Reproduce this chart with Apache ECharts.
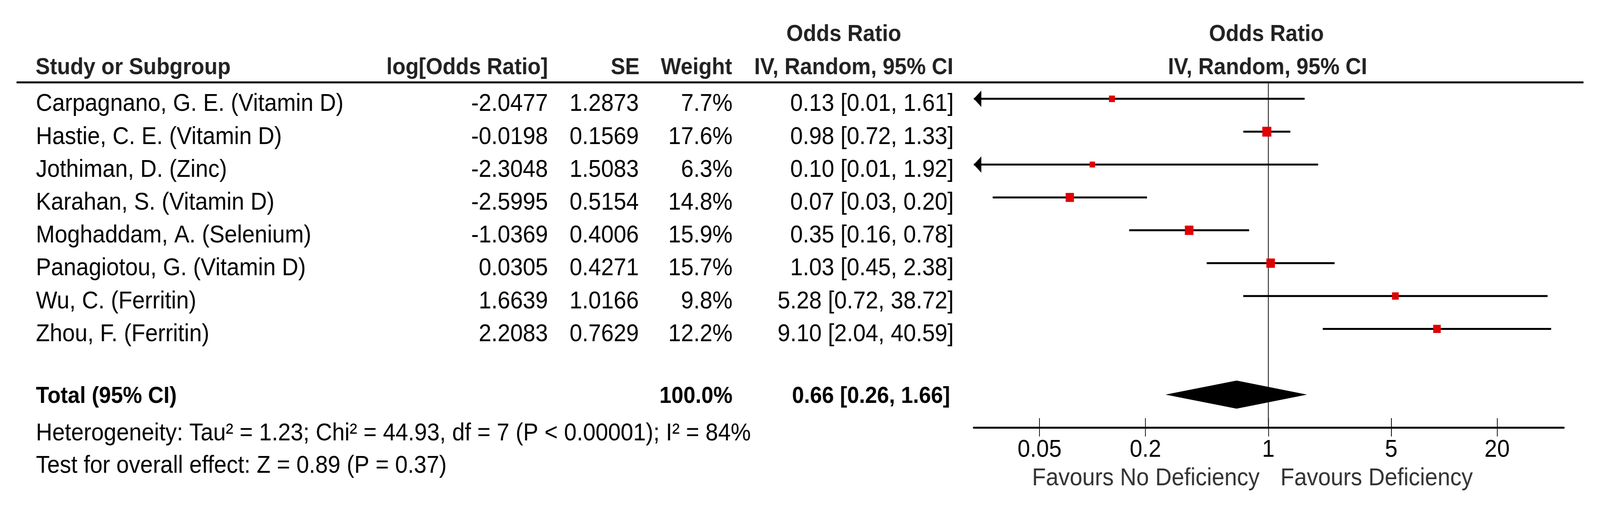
<!DOCTYPE html>
<html>
<head>
<meta charset="utf-8">
<title>Forest plot</title>
<script src="https://cdn.jsdelivr.net/npm/echarts@6/dist/echarts.min.js"></script>
<style>
    html, body { margin: 0; padding: 0; background: #fff; overflow: hidden; }
    #main { width: 4456px; height: 1314px; transform-origin: 0 0; }
</style>
</head>
<body>
<div id="main"></div>
<script>
var studies = [
    'Carpagnano, G. E. (Vitamin D)',
    'Hastie, C. E. (Vitamin D)',
    'Jothiman, D. (Zinc)',
    'Karahan, S. (Vitamin D)',
    'Moghaddam, A. (Selenium)',
    'Panagiotou, G. (Vitamin D)',
    'Wu, C. (Ferritin)',
    'Zhou, F. (Ferritin)'
];
var logOR = [-2.0477, -0.0198, -2.3048, -2.5995, -1.0369, 0.0305, 1.6639, 2.2083];
var se = [1.2873, 0.1569, 1.5083, 0.5154, 0.4006, 0.4271, 1.0166, 0.7629];
var weight = [7.7, 17.6, 6.3, 14.8, 15.9, 15.7, 9.8, 12.2];
var oddsRatio = [0.13, 0.98, 0.10, 0.07, 0.35, 1.03, 5.28, 9.10];
var ciLow = [0.01, 0.72, 0.01, 0.03, 0.16, 0.45, 0.72, 2.04];
var ciHigh = [1.61, 1.33, 1.92, 0.20, 0.78, 2.38, 38.72, 40.59];

// pooled estimate: OR, lower, upper
var totalOR = [0.66, 0.26, 1.66];
var totalWeight = 100.0;

var tickValues = [0.05, 0.2, 1, 5, 20];
var tickLabels = ['0.05', '0.2', '1', '5', '20'];

var heterogeneity = 'Heterogeneity: Tau\u00b2 = 1.23; Chi\u00b2 = 44.93, df = 7 (P < 0.00001); I\u00b2 = 84%';
var overallEffect = 'Test for overall effect: Z = 0.89 (P = 0.37)';

var xMin = -1.675, xMax = 1.68;   // log10(OR) range of the plot
var totalRow = 9;
var FONT = '"Liberation Sans", Arial, sans-serif';
var FS = 63, FSB = 60;
var PAGE_W = 4456, PAGE_H = 1314;

var myChart;

window.onload = function () {
    var el = document.getElementById('main');
    // the window can be narrower than the picture: squeeze the whole chart to fit
    var kx = Math.min(1, window.innerWidth / PAGE_W);
    var ky = Math.min(1, window.innerHeight / PAGE_H);
    el.style.transform = 'scale(' + kx + ',' + ky + ')';
    myChart = echarts.init(el);
    myChart.setOption(buildOption());
};

function lg(v) {
    return Math.log10(v);
}

function txt(x, y, s, align, bold, color) {
    return {
        type: 'text',
        x: x, y: y,
        silent: true,
        style: {
            text: s,
            fill: color || '#000',
            fontFamily: FONT,
            fontSize: bold ? FSB : FS,
            fontWeight: bold ? 'bold' : 'normal',
            align: align,
            verticalAlign: 'middle'
        }
    };
}

function renderStudy(params, api) {
    var row = api.value(0);
    var est = api.value(1) / Math.LN10;
    var half = 1.96 * api.value(2) / Math.LN10;
    var lo = est - half, hi = est + half;
    var a = api.coord([Math.max(lo, xMin), row]);
    var b = api.coord([Math.min(hi, xMax), row]);
    var c = api.coord([est, row]);
    var s = 6 * Math.sqrt(api.value(3));
    var kids = [{
        type: 'line',
        shape: { x1: a[0], y1: a[1], x2: b[0], y2: b[1] },
        style: { stroke: '#000', lineWidth: 5 }
    }];
    if (lo < xMin) {
        kids.push({
            type: 'polygon',
            shape: { points: [[a[0], a[1]], [a[0] + 21, a[1] - 21], [a[0] + 21, a[1] + 21]] },
            style: { fill: '#000' }
        });
    }
    if (hi > xMax) {
        kids.push({
            type: 'polygon',
            shape: { points: [[b[0], b[1]], [b[0] - 21, b[1] - 21], [b[0] - 21, b[1] + 21]] },
            style: { fill: '#000' }
        });
    }
    kids.push({
        type: 'rect',
        shape: { x: c[0] - s / 2, y: c[1] - s / 2, width: s, height: s },
        style: { fill: '#e00000' }
    });
    return { type: 'group', children: kids };
}

function renderTable(params, api) {
    var i = params.dataIndex;
    var y = api.coord([0, api.value(0)])[1] + 14;
    return {
        type: 'group',
        children: [
            txt(100, y, studies[i], 'left'),
            txt(1526, y, logOR[i].toFixed(4), 'right'),
            txt(1779, y, se[i].toFixed(4), 'right'),
            txt(2040, y, weight[i].toFixed(1) + '%', 'right'),
            txt(2656, y, oddsRatio[i].toFixed(2) + ' [' + ciLow[i].toFixed(2) + ', ' + ciHigh[i].toFixed(2) + ']', 'right')
        ]
    };
}

function renderTotal(params, api) {
    var row = api.value(0);
    var l = api.coord([lg(api.value(2)), row]);
    var m = api.coord([lg(api.value(1)), row]);
    var r = api.coord([lg(api.value(3)), row]);
    var h = 36;
    var y = m[1] + 5;
    return {
        type: 'group',
        children: [
            {
                type: 'polygon',
                shape: { points: [[l[0], m[1]], [m[0], m[1] - h], [r[0], m[1]], [m[0], m[1] + h]] },
                style: { fill: '#000' }
            },
            txt(100, y, 'Total (95% CI)', 'left', true),
            txt(2040, y, totalWeight.toFixed(1) + '%', 'right', true),
            txt(2646, y, api.value(1).toFixed(2) + ' [' + api.value(2).toFixed(2) + ', ' + api.value(3).toFixed(2) + ']', 'right', true)
        ]
    };
}

function buildOption() {
    var rows = studies.map(function (n, i) {
        return [i, logOR[i], se[i], weight[i]];
    });
    var tickPos = tickValues.map(lg);

    return {
        animation: false,
        backgroundColor: '#fff',
        grid: { left: 2712, right: 101, top: 211, bottom: 219 },
        xAxis: [{
            type: 'value',
            min: xMin, max: xMax,
            position: 'bottom',
            axisLine: { show: true, onZero: false, lineStyle: { color: '#000', width: 5 } },
            axisTick: { show: true, customValues: tickPos, length: 23, lineStyle: { color: '#000', width: 2 } },
            axisLabel: {
                customValues: tickPos,
                margin: 26,
                color: '#000',
                fontFamily: FONT,
                fontSize: FS,
                formatter: function (v) {
                    for (var k = 0; k < tickPos.length; k++) {
                        if (Math.abs(tickPos[k] - v) < 1e-6) return tickLabels[k];
                    }
                    return '';
                }
            },
            splitLine: { show: false }
        }, {
            type: 'value',
            min: xMin, max: xMax,
            position: 'bottom',
            axisLine: { show: false, onZero: false },
            axisTick: { show: true, inside: true, customValues: tickPos, length: 24, lineStyle: { color: '#000', width: 2 } },
            axisLabel: { show: false },
            splitLine: { show: false }
        }],
        yAxis: {
            type: 'value',
            inverse: true,
            min: -0.5, max: 10,
            show: false
        },
        graphic: [
            {
                type: 'line', silent: true,
                shape: { x1: 46, y1: 211, x2: 4410, y2: 211 },
                style: { stroke: '#000', lineWidth: 5 }
            },
            txt(2350, 88, 'Odds Ratio', 'center', true, '#222'),
            txt(3527, 88, 'Odds Ratio', 'center', true, '#222'),
            txt(99, 173, 'Study or Subgroup', 'left', true, '#222'),
            txt(1526, 173, 'log[Odds Ratio]', 'right', true, '#222'),
            txt(1781, 173, 'SE', 'right', true, '#222'),
            txt(2039, 173, 'Weight', 'right', true, '#222'),
            txt(2655, 173, 'IV, Random, 95% CI', 'right', true, '#222'),
            txt(3530, 173, 'IV, Random, 95% CI', 'center', true, '#222'),
            txt(100, 1111, heterogeneity, 'left'),
            txt(100, 1194, overallEffect, 'left'),
            txt(3508, 1226, 'Favours No Deficiency', 'right', false, '#333'),
            txt(3566, 1226, 'Favours Deficiency', 'left', false, '#333')
        ],
        series: [
            {
                type: 'line',
                data: [[0, -0.5], [0, 10]],
                symbol: 'none',
                silent: true,
                lineStyle: { color: '#222', width: 2.5 },
                z: 1
            },
            {
                type: 'custom',
                renderItem: renderStudy,
                data: rows,
                encode: { x: 1, y: 0 },
                silent: true,
                z: 3
            },
            {
                type: 'custom',
                renderItem: renderTable,
                data: rows,
                encode: { y: 0 },
                clip: false,
                silent: true
            },
            {
                type: 'custom',
                renderItem: renderTotal,
                data: [[totalRow, totalOR[0], totalOR[1], totalOR[2]]],
                encode: { y: 0 },
                clip: false,
                silent: true,
                z: 3
            }
        ]
    };
}
</script>
</body>
</html>
